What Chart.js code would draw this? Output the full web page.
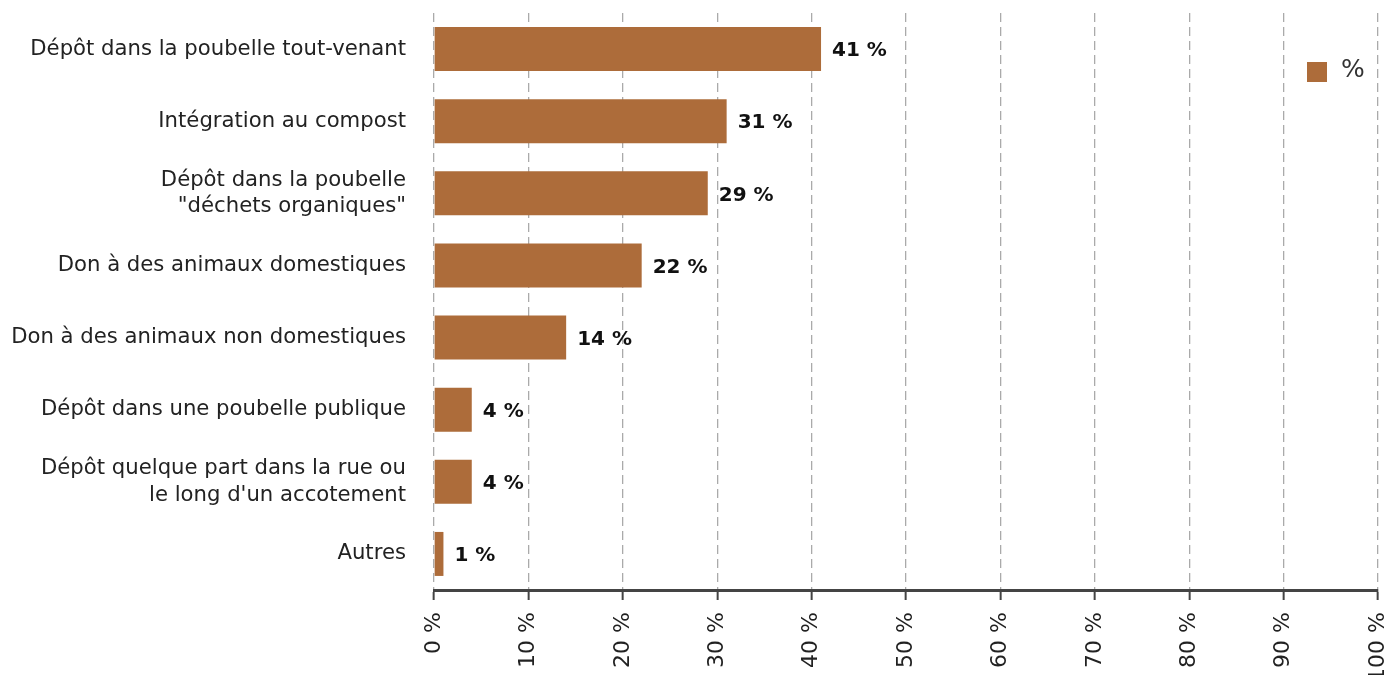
<!DOCTYPE html>
<html>
<head>
<meta charset="utf-8">
<script src="https://cdn.jsdelivr.net/npm/chart.js@4/dist/chart.umd.min.js"></script>
<style>
  html, body { margin: 0; padding: 0; background: #fff; }
  #wrap { width: 1388px; height: 675px; }
</style>
</head>
<body>
<div id="wrap"><canvas id="chart"></canvas></div>
<script>
const categories = [
    "Dépôt dans la poubelle tout-venant",
    "Intégration au compost",
    ["Dépôt dans la poubelle", "\"déchets organiques\""],
    "Don à des animaux domestiques",
    "Don à des animaux non domestiques",
    "Dépôt dans une poubelle publique",
    ["Dépôt quelque part dans la rue ou", "le long d'un accotement"],
    "Autres"
];
const percentValues = [41, 31, 29, 22, 14, 4, 4, 1];
const seriesName = "%";
const xTicks = [0, 10, 20, 30, 40, 50, 60, 70, 80, 90, 100];

const barColor = "#ad6c3a";
const fontFamily = "'DejaVu Sans', sans-serif";

// value labels at the bar ends
const valueLabels = {
    id: "valueLabels",
    afterDatasetsDraw(chart) {
        const ctx = chart.ctx;
        const meta = chart.getDatasetMeta(0);
        ctx.save();
        ctx.font = "bold 20px " + fontFamily;
        ctx.fillStyle = "#111";
        ctx.textAlign = "left";
        ctx.textBaseline = "middle";
        meta.data.forEach((bar, i) => {
            ctx.fillText(percentValues[i] + " %", bar.x + 11, bar.y + 2);
        });
        ctx.restore();
    }
};

// legend sits inside the plot, top right
const cornerLegend = {
    id: "cornerLegend",
    afterDraw(chart) {
        const ctx = chart.ctx;
        ctx.save();
        ctx.fillStyle = barColor;
        ctx.fillRect(1307, 62, 20, 20);
        ctx.font = "25px " + fontFamily;
        ctx.fillStyle = "#333";
        ctx.textBaseline = "middle";
        ctx.fillText(seriesName, 1341, 70);
        ctx.restore();
    }
};

new Chart(document.getElementById("chart"), {
    type: "bar",
    data: {
        labels: categories,
        datasets: [{
            label: seriesName,
            data: percentValues,
            backgroundColor: barColor,
            borderWidth: 0,
            barPercentage: 0.61,
            categoryPercentage: 1
        }]
    },
    options: {
        indexAxis: "y",
        responsive: true,
        maintainAspectRatio: false,
        animation: false,
        layout: { padding: { top: 13, right: 10, left: 0, bottom: 0 } },
        plugins: {
            legend: { display: false },
            tooltip: { enabled: false }
        },
        scales: {
            x: {
                min: 0,
                max: 100,
                afterBuildTicks: (scale) => {
                    scale.ticks = xTicks.map(v => ({ value: v }));
                },
                afterFit: (scale) => {
                    scale.height = 85;
                    scale.paddingLeft = 0;
                    scale.paddingRight = 0;
                },
                ticks: {
                    autoSkip: false,
                    minRotation: 90,
                    maxRotation: 90,
                    padding: 12,
                    color: "#222",
                    font: { family: fontFamily, size: 22 },
                    callback: (v) => v + " %"
                },
                grid: {
                    color: "#aaa",
                    lineWidth: 1.3,
                    drawTicks: true,
                    tickLength: 10,
                    tickColor: "#444",
                    tickWidth: 2,
                    tickBorderDash: []
                },
                border: {
                    display: true,
                    color: "#444",
                    width: 3,
                    dash: [9, 5]
                }
            },
            y: {
                afterFit: (scale) => {
                    scale.width = 434;
                    scale.paddingTop = 0;
                    scale.paddingBottom = 0;
                },
                ticks: {
                    color: "#222",
                    padding: 28,
                    font: { family: fontFamily, size: 21.2, lineHeight: 1.25 }
                },
                grid: { display: false, drawTicks: false },
                border: { display: false }
            }
        }
    },
    plugins: [valueLabels, cornerLegend]
});
</script>
</body>
</html>
